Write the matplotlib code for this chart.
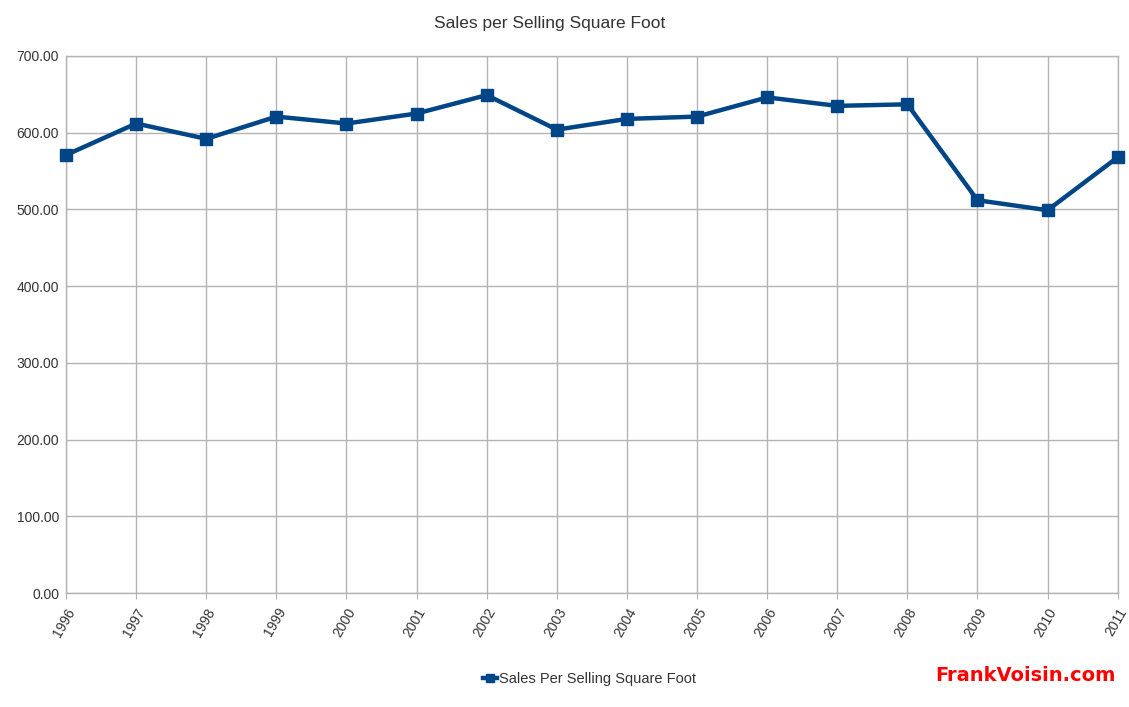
import numpy as np
import matplotlib
matplotlib.use('Agg')
import matplotlib.pyplot as plt

plt.rcParams['font.family'] = ['Liberation Sans', 'DejaVu Sans']

years = [1996, 1997, 1998, 1999, 2000, 2001, 2002, 2003,
         2004, 2005, 2006, 2007, 2008, 2009, 2010, 2011]
sales = [571, 612, 592, 621, 612, 625, 649, 604,
         618, 621, 646, 635, 637, 512, 499, 568]
yticks = [0, 100, 200, 300, 400, 500, 600, 700]

fig = plt.figure(figsize=(11.29, 7.07), dpi=100)
ax = fig.add_axes([0.0585, 0.1612, 0.9315, 0.7596])

ax.plot(years, sales, color='#004586', lw=3.2, marker='s', ms=8,
        label='Sales Per Selling Square Foot', clip_on=False, zorder=3)
ax.set_xlim(1996, 2011)
ax.set_ylim(0, 700)
ax.set_yticks(yticks)
ax.set_yticklabels(['%.2f' % v for v in yticks])
ax.set_xticks(years)
ax.set_xticklabels([str(y) for y in years], rotation=60, ha='right',
                   rotation_mode='anchor')
ax.grid(True, color='#b3b3b3', lw=1)
ax.set_axisbelow(True)
for s in ax.spines.values():
    s.set_color('#b3b3b3')
    s.set_linewidth(1)
ax.tick_params(axis='both', labelsize=10, colors='#333333', length=0, pad=5)
ax.tick_params(axis='x', length=4, color='#b3b3b3')

fig.suptitle('Sales per Selling Square Foot', x=0.487, y=0.977,
             fontsize=12.5, color='#333333')
leg = fig.legend(loc='center', bbox_to_anchor=(0.522, 0.04), frameon=False,
                 fontsize=10.5, handlelength=1.0, handletextpad=0.1,
                 markerscale=0.8)
for t in leg.get_texts():
    t.set_color('#333333')
fig.text(0.988, 0.044, 'FrankVoisin.com', color='#ff0000', fontsize=14,
         fontweight='bold', ha='right', va='center',
         family=['DejaVu Sans'])

plt.savefig('out.png', dpi=100)
